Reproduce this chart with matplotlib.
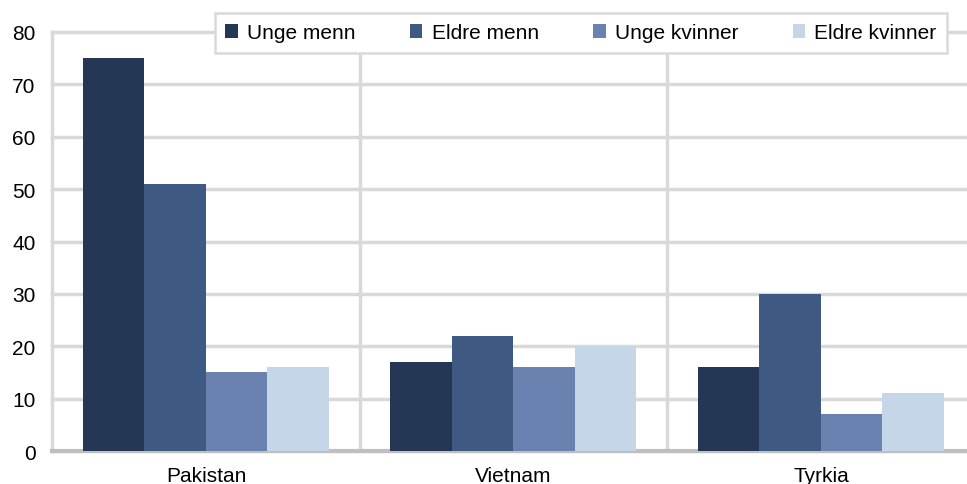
import numpy as np
import matplotlib
matplotlib.use("Agg")
import matplotlib.pyplot as plt

plt.rcParams['font.family'] = ['Liberation Sans', 'DejaVu Sans']

countries = ["Pakistan", "Vietnam", "Tyrkia"]
series = ["Unge menn", "Eldre menn", "Unge kvinner", "Eldre kvinner"]
unge_menn = [75, 17, 16]
eldre_menn = [51, 22, 30]
unge_kvinner = [15, 16, 7]
eldre_kvinner = [16, 20, 11]
colors = ["#243754", "#3f5a82", "#6a82b0", "#c5d6e8"]

values = [unge_menn, eldre_menn, unge_kvinner, eldre_kvinner]

fig = plt.figure(figsize=(9.67, 4.85), dpi=100)
ax = fig.add_axes([0.054, 0.068, 0.946, 0.864])

x = np.arange(len(countries))
w = 0.2
for i, (name, vals) in enumerate(zip(series, values)):
    ax.bar(x + (i - 1.5) * w, vals, width=w, color=colors[i], label=name, zorder=3)

grid_col = "#d9d9d9"
ax.set_xlim(-0.5, 2.475)
ax.set_ylim(0, 80)
ax.set_yticks(range(0, 81, 10))
ax.set_xticks(x)
ax.set_xticklabels(countries)
ax.set_xticks([0.5, 1.5], minor=True)
ax.grid(axis="y", which="major", color=grid_col, linewidth=2.5, zorder=0)
ax.grid(axis="x", which="minor", color=grid_col, linewidth=2.5, zorder=0)
for gl in ax.get_ygridlines():
    gl.set_clip_on(False)
ax.tick_params(axis="both", which="both", length=0, labelsize=15, colors="#000000")
ax.tick_params(axis="y", pad=12)
ax.tick_params(axis="x", pad=11)

for s in ["top", "right"]:
    ax.spines[s].set_visible(False)
ax.spines["left"].set_color(grid_col)
ax.spines["left"].set_linewidth(2.5)
ax.spines["bottom"].set_color("#bfbfbf")
ax.spines["bottom"].set_linewidth(3)

leg = ax.legend(ncol=4, loc="upper right", bbox_to_anchor=(947 / 967, 1 - 14 / 485),
                bbox_transform=fig.transFigure, fancybox=False, frameon=True,
                fontsize=15, handlelength=0.6, handleheight=0.6, handletextpad=0.45,
                columnspacing=2.6, borderpad=0.5, borderaxespad=0)
leg.get_frame().set_edgecolor(grid_col)
leg.get_frame().set_linewidth(1.8)
leg.get_frame().set_alpha(1)
leg.set_zorder(5)

fig.savefig("out.png", dpi=100)
